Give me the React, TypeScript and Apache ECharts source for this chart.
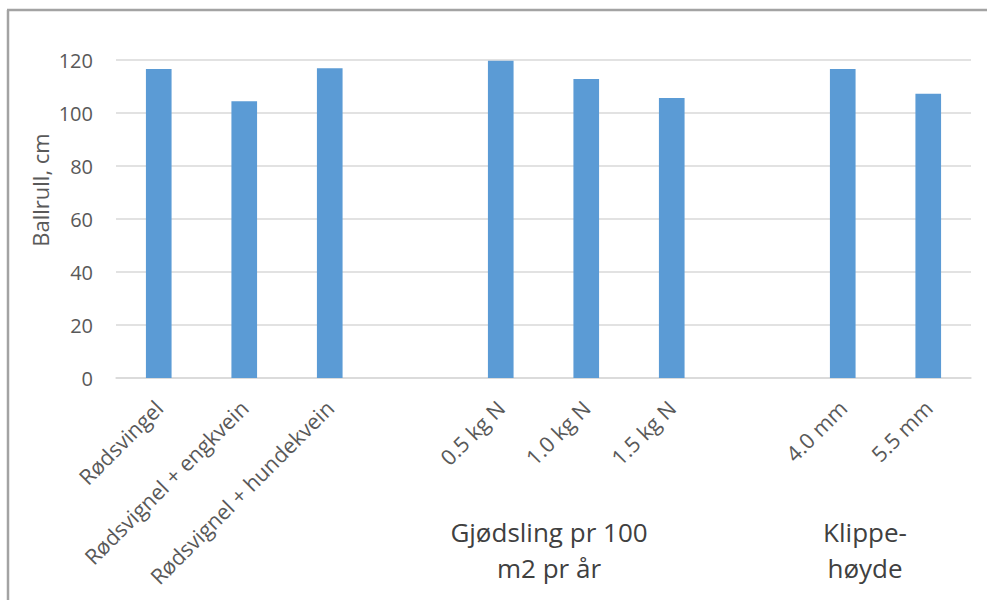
import React, { useEffect, useRef } from "react";
import * as echarts from "echarts";

// Treatment categories (blank entries separate the three groups)
const categories = [
  "Rødsvingel",
  "Rødsvignel + engkvein",
  "Rødsvignel + hundekvein",
  "",
  "0.5 kg N",
  "1.0 kg N",
  "1.5 kg N",
  " ",
  "4.0 mm",
  "5.5 mm",
];

// Ball roll distance, cm
const ballRoll: (number | null)[] = [116.6, 104.4, 116.9, null, 119.7, 112.8, 105.7, null, 116.6, 107.3];

const yAxisName = "Ballrull, cm";
const groupLabels = [
  { text: "Gjødsling pr 100\nm2 pr år", x: 549 },
  { text: "Klippe-\nhøyde", x: 865 },
];

const FONT = "'Open Sans', 'Noto Sans', sans-serif";
const TEXT = "#595959";

export default function App() {
  const ref = useRef<HTMLDivElement>(null);

  useEffect(() => {
    if (!ref.current) return;
    const chart = echarts.init(ref.current, undefined, { renderer: "svg" });
    chart.setOption({
      animation: false,
      backgroundColor: "#ffffff",
      textStyle: { fontFamily: FONT },
      grid: { left: 116, right: 16, top: 60, bottom: 222, containLabel: false },
      xAxis: {
        type: "category",
        data: categories,
        axisTick: { show: false },
        axisLine: { lineStyle: { color: "#d9d9d9", width: 1.5 } },
        axisLabel: {
          rotate: 45,
          interval: 0,
          margin: 26,
          color: TEXT,
          fontSize: 21.5,
          fontFamily: FONT,
        },
      },
      yAxis: {
        type: "value",
        min: 0,
        max: 120,
        interval: 20,
        axisLine: { show: false },
        axisTick: { show: false },
        splitLine: { lineStyle: { color: "#d9d9d9", width: 1.5 } },
        axisLabel: { color: TEXT, fontSize: 20, margin: 23, fontFamily: FONT },
      },
      series: [
        {
          type: "bar",
          data: ballRoll,
          barWidth: "30%",
          itemStyle: { color: "#5b9bd5" },
        },
      ],
      graphic: [
        {
          type: "line",
          shape: { x1: 7, y1: 10, x2: 987, y2: 10 },
          style: { stroke: "#a3a3a3", lineWidth: 2.5 },
        },
        {
          type: "line",
          shape: { x1: 8, y1: 10, x2: 8, y2: 600 },
          style: { stroke: "#a3a3a3", lineWidth: 2.5 },
        },
        {
          type: "text",
          x: 40,
          y: 190,
          rotation: Math.PI / 2,
          style: {
            text: yAxisName,
            fill: TEXT,
            fontSize: 22,
            fontFamily: FONT,
            align: "center",
            verticalAlign: "middle",
          },
        },
        ...groupLabels.map((g) => ({
          type: "text",
          x: g.x,
          y: 550,
          style: {
            text: g.text,
            fill: "#404040",
            fontSize: 26,
            lineHeight: 36,
            fontFamily: FONT,
            align: "center",
            verticalAlign: "middle",
          },
        })),
      ],
    });
    return () => chart.dispose();
  }, []);

  return (
    <div
      ref={ref}
      style={{ position: "absolute", left: 0, top: 0, width: 987, height: 600 }}
    />
  );
}
